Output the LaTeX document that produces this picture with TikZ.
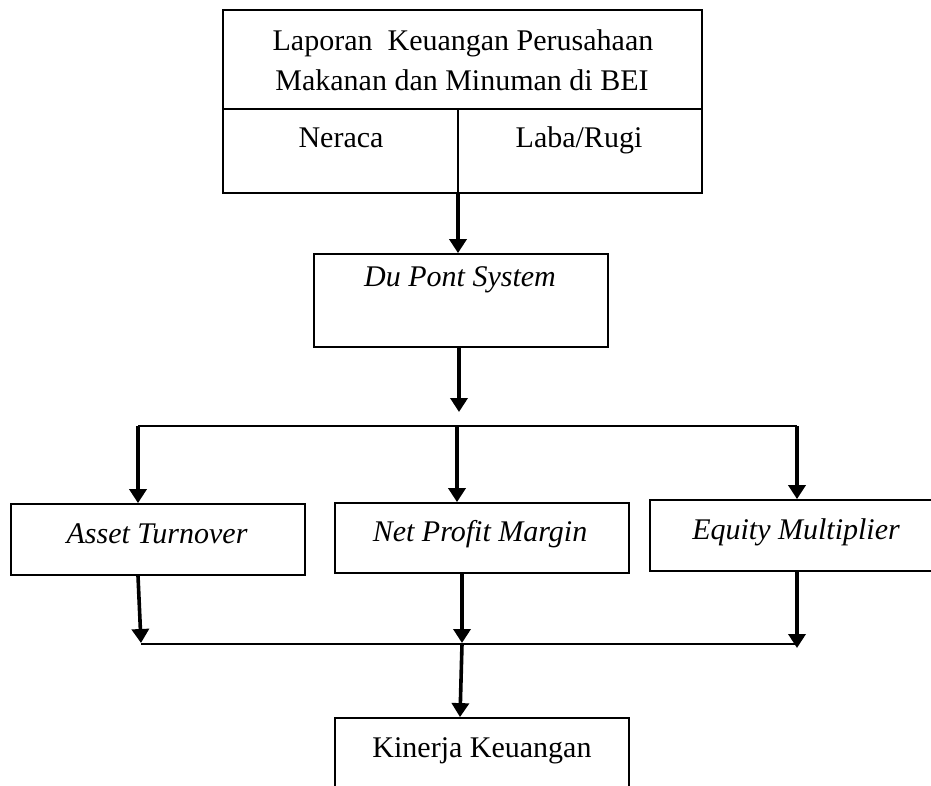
\documentclass[tikz,border=0pt]{standalone}
\usepackage{fontspec}
\setmainfont{Liberation Serif}
\usetikzlibrary{arrows.meta}
\begin{document}
\begin{tikzpicture}[x=1pt,y=-1pt,
  box/.style={draw, line width=1.8pt, inner sep=0pt},
  lbl/.style={anchor=base, inner sep=0pt, font=\fontsize{30}{40}\selectfont},
  arr/.style={line width=3.6pt, -{Triangle[width=17pt,length=14pt]}},
  ln/.style={line width=2pt}]
\useasboundingbox (0,0) rectangle (931,785);
\clip (0,0) rectangle (931,785);
% boxes
\node[box, minimum width=479pt, minimum height=183pt] (top) at (462.5,101.5) {};
\node[box, minimum width=294pt, minimum height=93pt] (dp) at (461,300.5) {};
\node[box, minimum width=294pt, minimum height=71pt] (at) at (158,539.5) {};
\node[box, minimum width=294pt, minimum height=70pt] (npm) at (482,538) {};
\node[box, minimum width=310pt, minimum height=71pt] (em) at (805,535.5) {};
\node[box, minimum width=294pt, minimum height=82pt] (kk) at (482,759) {};
% texts
\node[lbl] (t1) at (463,50) {Laporan\ \ Keuangan Perusahaan};
\node[lbl] (t2) at (462,90) {Makanan dan Minuman di BEI};
\node[lbl] (t3) at (341,147) {Neraca};
\node[lbl] (t4) at (579,147) {Laba/Rugi};
\node[lbl] (t5) at (460,286) {\itshape Du Pont System};
\node[lbl] (t6) at (157,543) {\itshape Asset Turnover};
\node[lbl] (t7) at (480,541) {\itshape Net Profit Margin};
\node[lbl] (t8) at (796,539) {\itshape Equity Multiplier};
\node[lbl] (t9) at (482,757) {Kinerja Keuangan};
% divider in top box
\coordinate (split) at (458,109);
\draw[ln] (top.west |- split) -- (top.east |- split);
\draw[ln] (split) -- (split |- top.south);
% connectors
\draw[arr] (split |- top.south) -- (split |- dp.north);
\coordinate (dpT) at (459,412);
\draw[arr] (dp.south -| dpT) -- (dpT);
\coordinate (b1L) at (138,426);
\coordinate (b1M) at (457,426);
\coordinate (b1R) at (797,426);
\draw[ln] (b1L) -- (b1R);
\draw[arr] (b1L) -- (b1L |- at.north);
\draw[arr] (b1M) -- (b1M |- npm.north);
\draw[arr] (b1R) -- (b1R |- em.north);
\coordinate (b2L) at (141,644);
\coordinate (b2M) at (462,644);
\coordinate (b2R) at (797,644);
\coordinate (atS) at (138,575);
\draw[ln] (b2L) -- (b2R);
\draw[arr] (at.south -| atS) -- (141,643);
\draw[arr] (npm.south -| b2M) -- (462,643);
\draw[arr] (em.south -| b2R) -- (797,648);
\coordinate (kkT) at (460,718);
\draw[arr] (b2M) -- (kk.north -| kkT);
\end{tikzpicture}
\end{document}
